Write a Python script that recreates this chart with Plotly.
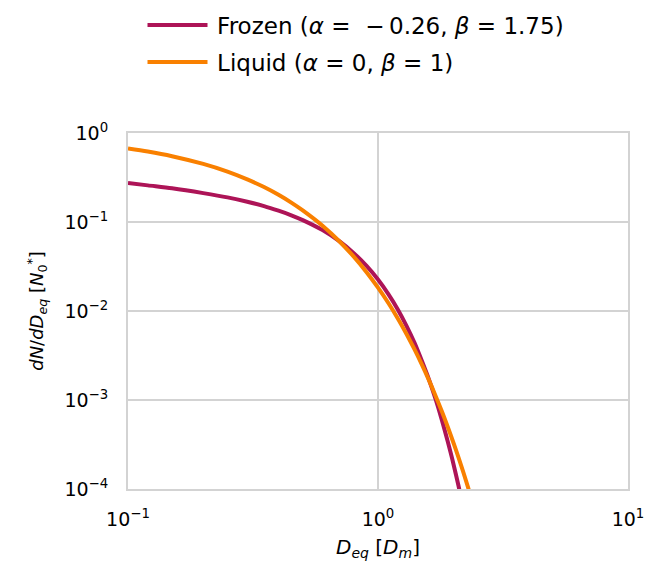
import plotly.graph_objects as go

# Data (D_eq in units of D_m, dN/dD_eq in units of N0*)
d_eq = [0.1, 0.12, 0.15, 0.2, 0.25, 0.3, 0.35, 0.4, 0.45, 0.5, 0.6, 0.7, 0.8, 0.9, 1.0,
        1.1, 1.2, 1.3, 1.4, 1.5, 1.6, 1.7, 1.8, 1.9, 2.0, 2.1, 2.2, 2.3, 2.4]
frozen = [0.275, 0.258, 0.239, 0.211, 0.189, 0.169, 0.151, 0.134, 0.119, 0.105, 0.081,
          0.0608, 0.0447, 0.0321, 0.0226, 0.0155, 0.0104, 0.00680, 0.00438, 0.00272,
          0.00169, 0.00102, 0.000598, 0.000343, 0.000195, 0.000108, 0.0000583,
          0.0000310, 0.0000160]
liquid = [0.670, 0.619, 0.549, 0.449, 0.368, 0.301, 0.247, 0.202, 0.165, 0.135, 0.0907,
          0.0608, 0.0408, 0.0273, 0.0183, 0.0123, 0.00823, 0.00552, 0.00370, 0.00248,
          0.00166, 0.00111, 0.000747, 0.000500, 0.000335, 0.000225, 0.000151,
          0.000101, 0.0000677]

series_names = ["\u2009Frozen (<i>α</i> = \u00a0−\u20090.26, <i>β</i> = 1.75)",
                "\u2009Liquid (<i>α</i> = 0, <i>β</i> = 1)"]
colors = ["#AD1457", "#F98000"]

x_tickvals = [0.1, 1, 10]
x_ticktext = ["10<sup>−1</sup>", "10<sup>0</sup>", "10<sup>1</sup>"]
y_tickvals = [1e-4, 1e-3, 1e-2, 1e-1, 1]
y_ticktext = ["10<sup>−4</sup>", "10<sup>−3</sup>", "10<sup>−2</sup>",
              "10<sup>−1</sup>", "10<sup>0</sup>"]

fig = go.Figure()
for i, (name, ys, c) in enumerate(zip(series_names, [frozen, liquid], colors)):
    fig.add_trace(go.Scatter(x=d_eq, y=ys, mode="lines", name=name,
                             legend="legend" if i == 0 else "legend2",
                             line=dict(color=c, width=4, shape="spline", smoothing=0.8),
                             cliponaxis=True))

grid_c = "#D3D3D3"
leg_common = dict(xanchor="left", yanchor="middle", font=dict(size=23),
                  itemwidth=60, bgcolor="rgba(0,0,0,0)", borderwidth=0)
fig.update_layout(
    width=646, height=561,
    margin=dict(l=128, r=18, t=133, b=72, autoexpand=False),
    paper_bgcolor="white", plot_bgcolor="white",
    font=dict(family="DejaVu Sans", size=16, color="black"),
    showlegend=True,
    legend=dict(x=0.029, y=1.303, **leg_common),
    legend2=dict(x=0.029, y=1.199, **leg_common),
    xaxis=dict(type="log", range=[-1, 1], tickvals=x_tickvals, ticktext=x_ticktext,
               showgrid=True, gridcolor=grid_c, gridwidth=1.6,
               showline=True, linecolor=grid_c, linewidth=2, mirror=True,
               ticks="outside", ticklen=12, tickcolor="rgba(0,0,0,0)",
               zeroline=False, tickfont=dict(size=19), automargin=False,
               title=dict(text="<i>D<sub>eq</sub></i> [<i>D<sub>m</sub></i>]",
                          font=dict(size=20), standoff=14)),
    yaxis=dict(type="log", range=[-4, 0], tickvals=y_tickvals, ticktext=y_ticktext,
               showgrid=True, gridcolor=grid_c, gridwidth=1.6,
               showline=True, linecolor=grid_c, linewidth=2, mirror=True,
               ticks="outside", ticklen=14, tickcolor="rgba(0,0,0,0)",
               zeroline=False, tickfont=dict(size=19), automargin=False,
               title=dict(text="<i>dN</i>/<i>dD<sub>eq</sub></i> [<i>N</i><sub>0</sub><sup>*</sup>]",
                          font=dict(size=18), standoff=16)),
)

fig.write_html("out.html")
